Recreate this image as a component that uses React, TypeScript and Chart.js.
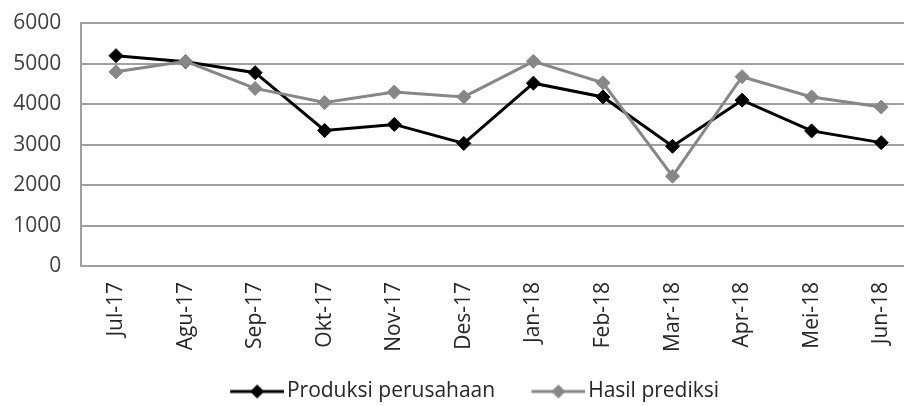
import React, { useEffect, useRef } from "react";
import { Chart, registerables } from "chart.js";

Chart.register(...registerables);

const categories = ["Jul-17", "Agu-17", "Sep-17", "Okt-17", "Nov-17", "Des-17", "Jan-18", "Feb-18", "Mar-18", "Apr-18", "Mei-18", "Jun-18"];
const produksiPerusahaan = [5200, 5050, 4780, 3350, 3500, 3030, 4520, 4180, 2960, 4100, 3340, 3050];
const hasilPrediksi = [4800, 5060, 4390, 4040, 4300, 4180, 5060, 4530, 2220, 4680, 4180, 3930];
const seriesNames = ["Produksi perusahaan", "Hasil prediksi"];
const seriesColors = ["#000000", "#878787"];
const yMin = 0;
const yMax = 6000;
const yStep = 1000;

const FONT = "'Open Sans', 'Liberation Sans', sans-serif";

// legend symbol: transparent left part, then line with a diamond in the middle
function makeLegendSymbol(color: string): HTMLCanvasElement {
  const c = document.createElement("canvas");
  const w = 78;
  const sym = 54;
  const x0 = w - sym;
  c.width = w;
  c.height = 18;
  const ctx = c.getContext("2d")!;
  ctx.strokeStyle = color;
  ctx.lineWidth = 3;
  ctx.beginPath();
  ctx.moveTo(x0, 9);
  ctx.lineTo(w, 9);
  ctx.stroke();
  ctx.fillStyle = color;
  const cx = x0 + sym / 2;
  ctx.beginPath();
  ctx.moveTo(cx - 7, 9);
  ctx.lineTo(cx, 9 - 7);
  ctx.lineTo(cx + 7, 9);
  ctx.lineTo(cx, 9 + 7);
  ctx.closePath();
  ctx.fill();
  return c;
}

export default function App() {
  const canvasRef = useRef<HTMLCanvasElement | null>(null);

  useEffect(() => {
    if (!canvasRef.current) return;
    const symbols = seriesColors.map((c) => makeLegendSymbol(c));
    const chart = new Chart(canvasRef.current, {
      type: "line",
      data: {
        labels: categories,
        datasets: [
          {
            label: seriesNames[0],
            data: produksiPerusahaan,
            borderColor: seriesColors[0],
            backgroundColor: seriesColors[0],
            borderWidth: 3,
            pointStyle: "rectRot",
            pointRadius: 7,
            pointBorderWidth: 1,
            pointBackgroundColor: seriesColors[0],
            pointBorderColor: seriesColors[0],
            tension: 0,
            order: 1,
          },
          {
            label: seriesNames[1],
            data: hasilPrediksi,
            borderColor: seriesColors[1],
            backgroundColor: seriesColors[1],
            borderWidth: 3,
            pointStyle: "rectRot",
            pointRadius: 7,
            pointBorderWidth: 1,
            pointBackgroundColor: seriesColors[1],
            pointBorderColor: seriesColors[1],
            tension: 0,
            order: 0,
          },
        ],
      },
      options: {
        animation: false,
        responsive: true,
        maintainAspectRatio: false,
        layout: { padding: { left: 0, right: 0, top: 23.3, bottom: 0 } },
        plugins: {
          tooltip: { enabled: false },
          legend: {
            display: true,
            position: "bottom",
            labels: {
              usePointStyle: true,
              pointStyleWidth: 62.5,
              padding: 20,
              color: "#262626",
              font: { family: FONT, size: 21 },
              generateLabels: () =>
                seriesNames.map((name, i) => ({
                  text: name,
                  pointStyle: symbols[i] as any,
                  fillStyle: seriesColors[i],
                  strokeStyle: seriesColors[i],
                  lineWidth: 0,
                  hidden: false,
                  datasetIndex: i,
                  fontColor: "#262626",
                })),
            },
          },
        },
        scales: {
          x: {
            type: "category",
            offset: true,
            grid: { display: false, drawTicks: false },
            border: { display: false },
            ticks: {
              autoSkip: false,
              minRotation: 90,
              maxRotation: 90,
              padding: 16,
              color: "#262626",
              font: { family: FONT, size: 21 },
            },
            afterFit: (scale: any) => {
              scale.height = 95;
              scale.paddingLeft = 0;
              scale.paddingRight = 0;
            },
          },
          y: {
            min: yMin,
            max: yMax,
            grid: { color: "#a0a0a0", lineWidth: 2, drawTicks: false },
            border: { display: true, color: "#a0a0a0", width: 2 },
            ticks: {
              stepSize: yStep,
              padding: 20,
              color: "#404040",
              font: { family: FONT, size: 21 },
              callback: (v: any) => String(v),
            },
            afterFit: (scale: any) => {
              scale.width = 81.2;
              scale.paddingTop = 0;
              scale.paddingBottom = 0;
            },
          },
          yRightSpace: {
            type: "linear",
            position: "right",
            display: true,
            grid: { display: false, drawTicks: false },
            border: { display: false },
            ticks: { display: false },
            afterFit: (scale: any) => {
              scale.width = 17;
              scale.paddingTop = 0;
              scale.paddingBottom = 0;
            },
          },
        },
      },
    });
    return () => chart.destroy();
  }, []);

  return (
    <div
      style={{
        position: "fixed",
        left: 0,
        top: 0,
        width: 904,
        height: 406,
        overflow: "hidden",
        background: "#ffffff",
      }}
    >
      <div style={{ position: "relative", width: 933, height: 412 }}>
        <canvas ref={canvasRef} />
      </div>
    </div>
  );
}
